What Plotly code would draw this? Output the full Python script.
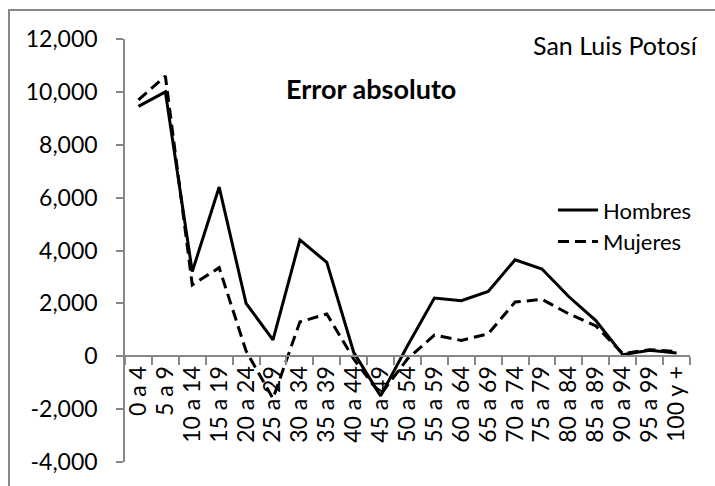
import plotly.graph_objects as go

categories = ["0 a 4", "5 a 9", "10 a 14", "15 a 19", "20 a 24", "25 a 29",
              "30 a 34", "35 a 39", "40 a 44", "45 a 49", "50 a 54", "55 a 59",
              "60 a 64", "65 a 69", "70 a 74", "75 a 79", "80 a 84", "85 a 89",
              "90 a 94", "95 a 99", "100 y +"]
hombres = [9450, 10000, 3200, 6400, 2000, 620, 4400, 3550, 150, -1500, 400,
           2200, 2100, 2450, 3650, 3300, 2250, 1350, 60, 230, 120]
mujeres = [9700, 10600, 2700, 3350, 200, -1600, 1300, 1600, -100, -1450, -100,
           800, 600, 850, 2050, 2150, 1600, 1150, 100, 250, 180]
y_tickvals = [-4000, -2000, 0, 2000, 4000, 6000, 8000, 10000, 12000]
y_ticktext = ["-4,000", "-2,000", "0", "2,000", "4,000", "6,000", "8,000", "10,000", "12,000"]

FONT = "Lato"
AXIS_GRAY = "#878787"

fig = go.Figure()
fig.add_trace(go.Scatter(x=categories, y=hombres, mode="lines", name="Hombres",
                         line=dict(color="black", width=3)))
fig.add_trace(go.Scatter(x=categories, y=mujeres, mode="lines", name="Mujeres",
                         line=dict(color="black", width=3, dash="11px,6px")))

fig.update_layout(
    width=715, height=486,
    margin=dict(l=125, r=25, t=39, b=24),
    paper_bgcolor="white", plot_bgcolor="white",
    font=dict(family=FONT, size=22, color="black"),
    showlegend=True,
    legend=dict(x=0.7575, y=0.645, xanchor="left", yanchor="top",
                bgcolor="rgba(0,0,0,0)", font=dict(size=22), itemwidth=40,
                tracegroupgap=0),
    xaxis=dict(type="category", anchor="free", position=0.25,
               tickmode="array", tickvals=categories, ticktext=categories,
               showline=True, linecolor=AXIS_GRAY, linewidth=1.5,
               ticks="outside", ticklen=8, tickcolor=AXIS_GRAY, tickwidth=1.5,
               tickson="boundaries", tickangle=-90, showgrid=False,
               tickfont=dict(size=23), range=[-0.5, 20.5]),
    yaxis=dict(range=[-4000, 12000], tickvals=y_tickvals, ticktext=y_ticktext,
               showline=True, linecolor=AXIS_GRAY, linewidth=1.5,
               ticks="outside", ticklen=7, tickcolor=AXIS_GRAY, tickwidth=1.5,
               showgrid=False, zeroline=False, ticklabelstandoff=14,
               tickfont=dict(size=23)),
    annotations=[
        dict(text="<b>Error absoluto</b>", xref="paper", yref="paper",
             x=0.435, y=0.884, xanchor="center", yanchor="middle",
             showarrow=False, font=dict(size=27)),
        dict(text="San Luis Potosí", xref="paper", yref="paper",
             x=1.018, y=0.986, xanchor="right", yanchor="middle",
             showarrow=False, font=dict(size=25)),
    ],
    shapes=[
        dict(type="rect", xref="paper", yref="paper",
             x0=-0.2053, y0=-0.08, x1=1.06, y1=1.0686,
             line=dict(color=AXIS_GRAY, width=2), fillcolor="rgba(0,0,0,0)",
             layer="above"),
    ],
)

fig.write_html("out.html", config={"displayModeBar": False},
               post_script="document.body.style.margin='0';")
